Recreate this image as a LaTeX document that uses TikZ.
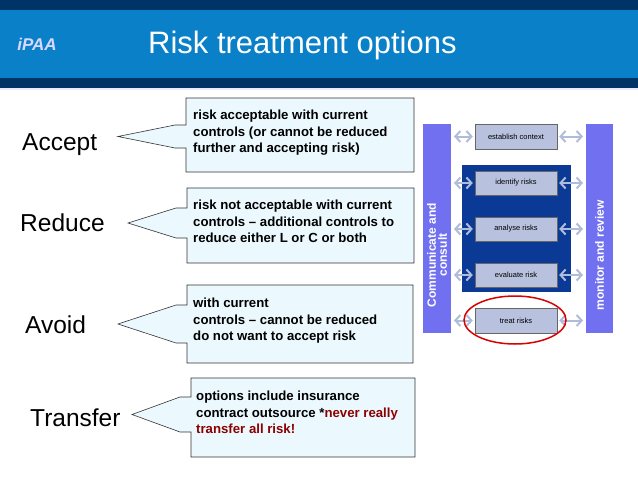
\documentclass[tikz,border=0pt]{standalone}
\usepackage{fontspec}
\setmainfont{Liberation Sans}
\usetikzlibrary{arrows.meta}
\definecolor{hdark}{HTML}{003366}
\definecolor{hblue}{HTML}{0A80C8}
\definecolor{navy}{HTML}{0A3A96}
\definecolor{barc}{HTML}{7070F0}
\definecolor{lboxc}{HTML}{B8C2DE}
\definecolor{arrc}{HTML}{B0BCDA}
\begin{document}
\begin{tikzpicture}[x=1pt,y=-1pt,
  callout/.style={draw=black!80,fill=cyan!8!white,line width=0.6pt},
  body/.style={anchor=north west,align=left,font=\bfseries\fontsize{13.2}{16.5}\selectfont,inner sep=0},
  opt/.style={font=\fontsize{24.5}{28}\selectfont,inner sep=0},
  lbox/.style={draw=black!60,fill=lboxc,font=\fontsize{7.5}{8}\selectfont,inner sep=0},
  bar/.style={fill=barc,draw=none},
  darr/.style={{Straight Barb[length=5pt,width=11pt]}-{Straight Barb[length=5pt,width=11pt]},line width=2pt,draw=arrc}]
\useasboundingbox (0,0) rectangle (638,479);
\fill[hdark] (0,0) rectangle (638,88);
\fill[hblue] (0,10) rectangle (638,78);
\fill[blue!8] (0,88) rectangle (638,90);
\node[font=\bfseries\itshape\fontsize{17}{17}\selectfont,text=white!85!blue] (logo) at (37,44) {iPAA};
\node[font=\fontsize{31}{34}\selectfont,text=white,anchor=west,inner sep=0] (title) at (148,45) {Risk treatment options};
\newcommand\mycallout[7]{%
 \draw[callout] (#1,#2) -- (#3,#2) -- (#3,#4) -- (#1,#4) -- (#1,#6) -- (#1-11,#6) -- (#7,{(#5+#6)/2}) -- (#1-11,#5) -- (#1,#5) -- cycle;}
\mycallout{186}{98}{414}{172}{125}{148}{118}
\mycallout{187}{188}{414}{263}{208}{238}{128}
\mycallout{187}{285}{413}{363}{305}{343}{118}
\mycallout{191}{378}{415}{457}{397}{432}{132}
\node[body] (t1) at (193,110) {risk acceptable with current\\controls (or cannot be reduced\\further and accepting risk)};
\node[body] (t2) at (193,200) {risk not acceptable with current\\controls -- additional controls to\\reduce either L or C or both};
\node[body] (t3) at (193,298) {with current\\controls -- cannot be reduced\\do not want to accept risk};
\node[body] (t4) at (196,391) {options include insurance\\contract outsource *\textcolor{red!55!black}{never really}\\\textcolor{red!55!black}{transfer all risk!}};
\node[opt,anchor=west] (a1) at (22,145) {Accept};
\node[opt,anchor=west] (a2) at (20,223) {Reduce};
\node[opt,anchor=west] (a3) at (25,325) {Avoid};
\node[opt,anchor=west] (a4) at (30,418) {Transfer};
\fill[bar] (423,124) rectangle (451,333);
\fill[bar] (586,124) rectangle (613,333);
\fill[navy] (462,165) rectangle (571,292);
\node[text=white,rotate=90,align=center,font=\bfseries\fontsize{12}{11}\selectfont,inner sep=0] (cc) at (437,255) {Communicate and\\consult};
\node[text=white,rotate=90,font=\bfseries\fontsize{12}{12}\selectfont,inner sep=0] (mr) at (599.5,255) {monitor and review};
\foreach \n/\t/\yy in {b1/establish context/136.5, b2/identify risks/183, b3/analyse risks/229, b4/evaluate risk/275, b5/treat risks/320.5}{
  \node[lbox,minimum width=82pt,minimum height=24.5pt] (\n) at (516,\yy) {\t};
  \coordinate (\n l) at (454,\yy); \coordinate (\n r) at (583,\yy);
  \draw[darr] (\n l) -- ([xshift=-2pt]\n.west);
  \draw[darr] ([xshift=2pt]\n.east) -- (\n r);
}
\draw[red!85!black,line width=1.5pt] (515,320) ellipse (51pt and 24pt);
\end{tikzpicture}
\end{document}
